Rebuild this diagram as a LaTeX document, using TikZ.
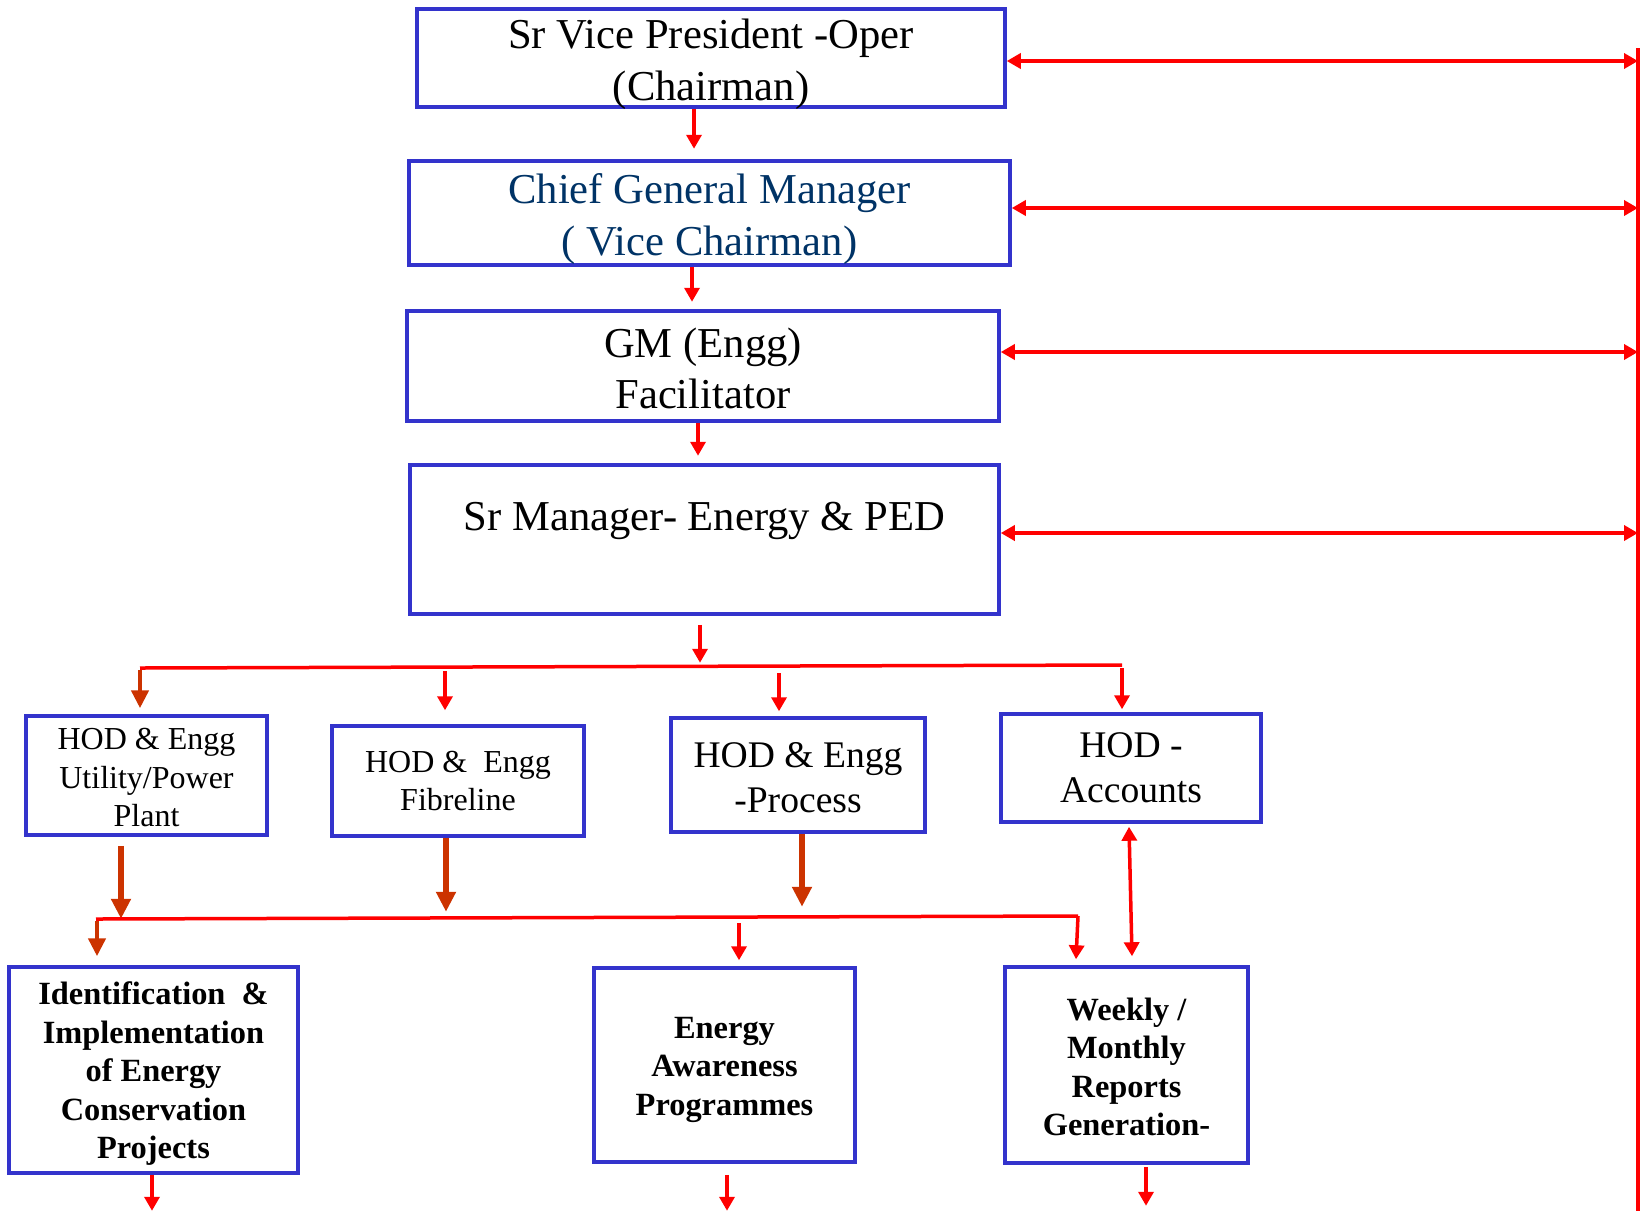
\documentclass[tikz,border=0pt]{standalone}
\usepackage{fontspec}
\setmainfont{Liberation Serif}
\usetikzlibrary{arrows.meta}

\definecolor{boxblue}{RGB}{51,51,204}
\definecolor{rustred}{RGB}{204,51,0}
\definecolor{navytext}{RGB}{0,51,102}

\newcommand\toptxt{\fontsize{21.3}{25.6}\selectfont}
\newcommand\hodtxt{\fontsize{16}{19.2}\selectfont}
\newcommand\hodbig{\fontsize{18.8}{22.5}\selectfont}
\newcommand\tasktxt{\fontsize{16.2}{19.2}\selectfont\bfseries}
\newcommand\lift[1]{\rule{0pt}{#1}}

\tikzset{
  orgbox/.style={draw=boxblue, line width=1.75pt, align=center, inner sep=0pt},
  redarr/.style={draw=red, line width=1.75pt, -{Triangle[length=7pt,width=7.5pt]}},
  redboth/.style={draw=red, line width=1.75pt, {Triangle[length=7pt,width=7.5pt]}-{Triangle[length=7pt,width=7.5pt]}},
  rustarr/.style={draw=rustred, line width=2.2pt, -{Triangle[length=9pt,width=8.5pt]}},
  rustthick/.style={draw=rustred, line width=3pt, -{Triangle[length=10pt,width=9.5pt]}},
  redline/.style={draw=red, line width=1.75pt},
}

\begin{document}
\begin{tikzpicture}[x=0.5pt,y=-0.5pt]
\useasboundingbox (0,0) rectangle (1641,1211);

\node[orgbox, font=\toptxt, minimum width=294pt, minimum height=49pt] (svp) at (711,58) {\lift{16.4pt}Sr Vice President -Oper\\\smash{(Chairman)}};
\node[orgbox, font=\toptxt, minimum width=300.5pt, minimum height=52pt, text=navytext] (cgm) at (709.5,213) {\lift{21pt}Chief General Manager\\( Vice Chairman)};
\node[orgbox, font=\toptxt, minimum width=296pt, minimum height=55pt] (gm) at (703,366) {\lift{16.8pt}GM (Engg)\\Facilitator};
\node[orgbox, font=\toptxt, minimum width=294.5pt, minimum height=74.5pt] (srm) at (704.5,539.5) {\lift{24pt}Sr Manager- Energy \& PED\\\strut};

\node[orgbox, font=\hodtxt, minimum width=120.5pt, minimum height=59.5pt] (hutil) at (146.5,775.5) {\lift{13pt}HOD \& Engg\\Utility/Power\\Plant};
\node[orgbox, font=\hodtxt, minimum width=126pt, minimum height=55pt] (hfib) at (458,781) {HOD \&\ \ Engg\\Fibreline};
\node[orgbox, font=\hodbig, minimum width=127pt, minimum height=57pt] (hproc) at (798,775) {\lift{15pt}HOD \& Engg\\-Process};
\node[orgbox, font=\hodbig, minimum width=130pt, minimum height=54pt] (hacc) at (1131,768) {HOD -\\Accounts};

\node[orgbox, font=\tasktxt, minimum width=144.5pt, minimum height=103pt] (ident) at (153.5,1070) {\lift{15.2pt}Identification\ \ \&\\Implementation\\of Energy\\Conservation\\Projects};
\node[orgbox, font=\tasktxt, minimum width=130.5pt, minimum height=97pt] (aware) at (724.5,1065) {\lift{15.2pt}Energy\\Awareness\\Programmes};
\node[orgbox, font=\tasktxt, minimum width=121.5pt, minimum height=98pt] (report) at (1126.5,1065) {\lift{13pt}Weekly /\\Monthly\\Reports\\Generation-};

\coordinate (rtop) at (1638,48);
\coordinate (rbot) at (1638,1211);
\coordinate (r1) at (1638,61);
\coordinate (r2) at (1638,208);
\coordinate (r3) at (1638,352);
\coordinate (r4) at (1638,533);
\coordinate (busAw) at (140,668);
\coordinate (busAe) at (1122,665);
\coordinate (busBw) at (96,919);
\coordinate (busBe) at (1078,916);

\draw[redline] (rtop) -- (rbot);
\draw[redboth] (svp.east |- r1) -- (r1);
\draw[redboth] (cgm.east |- r2) -- (r2);
\draw[redboth] (gm.east |- r3) -- (r3);
\draw[redboth] (srm.east |- r4) -- (r4);

\draw[redarr] ([xshift=-8.5pt]svp.south) -- ++(0,40);
\draw[redarr] ([xshift=-8.75pt]cgm.south) -- ++(0,35);
\draw[redarr] ([xshift=-2.5pt]gm.south) -- ++(0,33);
\draw[redarr] ([xshift=-2.25pt,yshift=-4.5pt]srm.south) -- ++(0,38);

\draw[redline] (busAw) -- (busAe);
\draw[rustarr] ([yshift=-1pt]busAw) -- ([xshift=-3.25pt,yshift=3pt]hutil.north);
\draw[redarr] ([xshift=-6.5pt,yshift=26.5pt]hfib.north) -- ([xshift=-6.5pt,yshift=7pt]hfib.north);
\draw[redarr] ([xshift=-9.5pt,yshift=21.5pt]hproc.north) -- ([xshift=-9.5pt,yshift=2.5pt]hproc.north);
\draw[redarr] ([xshift=-4.5pt,yshift=22pt]hacc.north) -- ([xshift=-4.5pt,yshift=1.5pt]hacc.north);

\draw[rustthick] ([xshift=-12.75pt,yshift=-4.5pt]hutil.south) -- ++(0,73);
\draw[rustthick] ([xshift=-6pt]hfib.south) -- ++(0,74);
\draw[rustthick] ([xshift=2pt]hproc.south) -- ++(0,73);
\draw[redboth] ([xshift=-1pt,yshift=-1.5pt]hacc.south) -- ([xshift=2.75pt,yshift=4.5pt]report.north);

\draw[redline] (busBw) -- (busBe);
\draw[rustarr] ([xshift=0.5pt,yshift=-1pt]busBw) -- ([xshift=-28.25pt,yshift=4.5pt]ident.north);
\draw[redarr] ([xshift=7.25pt,yshift=21.5pt]aware.north) -- ([xshift=7.25pt,yshift=3pt]aware.north);
\draw[redarr] (busBe) -- ([xshift=-25.25pt,yshift=3pt]report.north);

\draw[redarr] ([xshift=-0.75pt]ident.south) -- ++(0,36);
\draw[redarr] ([xshift=1.25pt,yshift=-5.5pt]aware.south) -- ++(0,36);
\draw[redarr] ([xshift=9.75pt,yshift=-1pt]report.south) -- ++(0,39);

\end{tikzpicture}
\end{document}
